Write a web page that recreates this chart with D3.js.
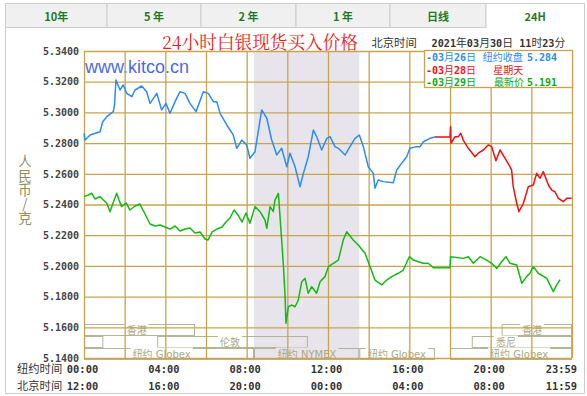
<!DOCTYPE html>
<html><head><meta charset="utf-8">
<script src="https://cdn.jsdelivr.net/npm/d3@7"></script>
<style>html,body{margin:0;padding:0;background:#fff;}svg{display:block;}</style>
</head><body>
<svg id="c" width="587" height="396"></svg>
<script>
// ---------------- data ----------------
const tabs = ["10年", "5 年", "2 年", "1 年", "日线", "24H"];
const yTicks = [5.14, 5.16, 5.18, 5.20, 5.22, 5.24, 5.26, 5.28, 5.30, 5.32, 5.34];
const xTickHours = [0, 4, 8, 12, 16, 20, 23.983];
const xTickNY = ["00:00", "04:00", "08:00", "12:00", "16:00", "20:00", "23:59"];
const xTickBJ = ["12:00", "16:00", "20:00", "00:00", "04:00", "08:00", "11:59"];

// 03月26日 纽约收盘 (blue)
const blueHours = [0,0.05,0.30,0.79,0.92,1.12,1.44,1.50,1.57,1.77,1.93,2.10,2.35,2.51,2.84,3.08,3.25,3.58,3.82,4.03,4.23,4.48,4.72,4.97,5.21,5.51,5.87,6.11,6.36,6.53,6.69,7.02,7.34,7.51,7.76,8.00,8.16,8.41,8.49,8.74,8.99,9.23,9.48,9.72,9.97,10.13,10.38,10.62,10.79,11.03,11.28,11.44,11.69,11.94,12.10,12.34,12.51,12.84,13.08,13.33,13.54,13.74,13.98,14.23,14.31,14.47,14.72,15.21,15.38,15.62,15.87,16.03,16.36,16.53,16.69,17.02,17.26];
const blueValues = [5.2864,5.2820,5.2853,5.2874,5.2939,5.2972,5.3005,5.3048,5.3211,5.3146,5.3179,5.3124,5.3102,5.3146,5.3172,5.3135,5.3059,5.3124,5.3016,5.3059,5.2994,5.3070,5.3135,5.3124,5.3059,5.3005,5.3135,5.3124,5.3070,5.3070,5.2994,5.2918,5.2853,5.2766,5.2820,5.2788,5.2701,5.2744,5.2809,5.3016,5.2962,5.2820,5.2723,5.2766,5.2646,5.2734,5.2646,5.2516,5.2603,5.2711,5.2885,5.2842,5.2755,5.2831,5.2842,5.2777,5.2766,5.2722,5.2777,5.2831,5.2853,5.2777,5.2646,5.2603,5.2506,5.2560,5.2549,5.2542,5.2625,5.2668,5.2711,5.2766,5.2777,5.2777,5.2809,5.2831,5.2840];

// 03月28日 星期天 (red)
const redHours = [17.26,18.00,18.03,18.05,18.25,18.41,18.53,18.65,18.90,19.23,19.39,19.64,19.88,20.05,20.26,20.46,20.71,20.95,21.03,21.11,21.28,21.39,21.61,21.85,22.10,22.26,22.43,22.59,22.84,23.00,23.16,23.33,23.57,23.74,23.98];
const redValues = [5.2840,5.2840,5.2907,5.2799,5.2842,5.2842,5.2864,5.2820,5.2766,5.2711,5.2734,5.2755,5.2788,5.2777,5.2685,5.2755,5.2701,5.2646,5.2625,5.2516,5.2408,5.2353,5.2408,5.2516,5.2527,5.2603,5.2571,5.2614,5.2527,5.2494,5.2483,5.2440,5.2418,5.2440,5.2440];

// 03月29日 最新价 (green)
const greenHours = [0,0.21,0.38,0.54,0.79,1.12,1.28,1.43,1.61,1.72,1.85,2.07,2.26,2.51,2.75,3.00,3.25,3.49,3.74,3.98,4.23,4.48,4.72,4.97,5.21,5.46,5.71,5.95,6.10,6.30,6.54,6.79,6.98,7.18,7.38,7.57,7.77,7.97,8.16,8.41,8.66,8.90,8.99,9.15,9.31,9.39,9.56,9.64,9.72,9.80,9.89,9.93,10.05,10.21,10.38,10.54,10.71,10.87,11.03,11.20,11.44,11.61,11.85,12.02,12.26,12.51,12.75,12.92,13.24,13.49,13.82,14.07,14.31,14.64,14.89,15.13,15.46,15.70,16.00,16.20,16.44,16.69,16.93,17.18,18.00,18.03,18.65,18.90,19.15,19.48,19.80,20.05,20.30,20.54,20.75,20.95,21.28,21.53,21.77,21.93,22.10,22.34,22.76,23.08,23.25,23.41];
const greenValues = [5.2451,5.2462,5.2473,5.2436,5.2451,5.2408,5.2353,5.2410,5.2473,5.2429,5.2386,5.2410,5.2364,5.2390,5.2403,5.2338,5.2273,5.2260,5.2266,5.2253,5.2240,5.2260,5.2227,5.2240,5.2247,5.2214,5.2221,5.2175,5.2169,5.2221,5.2240,5.2253,5.2286,5.2312,5.2364,5.2332,5.2286,5.2345,5.2278,5.2386,5.2353,5.2299,5.2245,5.2386,5.2353,5.2429,5.2473,5.2321,5.2169,5.2017,5.1799,5.1626,5.1734,5.1745,5.1734,5.1778,5.1897,5.1919,5.1822,5.1865,5.1822,5.1897,5.1930,5.1995,5.2017,5.2038,5.2169,5.2223,5.2169,5.2136,5.2082,5.1995,5.1908,5.1876,5.1908,5.1930,5.1952,5.1973,5.2060,5.2038,5.2027,5.2017,5.2017,5.1988,5.1988,5.2060,5.2049,5.2060,5.2017,5.2060,5.2038,5.2017,5.1984,5.2027,5.2060,5.2017,5.2006,5.1887,5.1930,5.1952,5.1995,5.1952,5.1919,5.1832,5.1876,5.1910];

// trading sessions: row, start hour, end hour, label, label hour
const sessionRows   = [0, 0, 1, 1, 1, 2, 2, 2, 2];
const sessionStart  = [0, 20.54, 0, 3.60, 19.07, 0, 8.36, 13.54, 18.00];
const sessionEnd    = [5.46, 24, 0.95, 11.01, 24, 8.36, 13.54, 17.26, 24];
const sessionLabels = ["香港", "香港", "", "伦敦", "悉尼", "纽约 Globex", "纽约 NYMEX", "纽约 Globex", "纽约 Globex"];
const sessionLabelAt = [2.59, 22.03, 0, 7.18, 20.75, 3.82, 10.97, 15.39, 21.4];
const nymexSpan = [8.36, 13.54];

// ---------------- drawing ----------------
const svg = d3.select("#c");
const L = 84, R = 572, T = 51, B = 358;
const x = d3.scaleLinear().domain([0, 24]).range([L, R]);
const y = d3.scaleLinear().domain([5.14, 5.34]).range([B, T]);
const GRID = "#c9a44c";
const MONO = "'DejaVu Sans Mono', monospace";
const CJK = "'Noto Sans CJK SC', sans-serif";
const CJK_TIGHT = "'DejaVu Sans', 'Noto Sans CJK SC', sans-serif";

function addRuns(t, px, py, str, size, cjkSize) {
  const runs = str.match(/[\x00-\x7F]+|[^\x00-\x7F]+/g) || [];
  runs.forEach((r, k) => {
    const ascii = /^[\x00-\x7F]+$/.test(r);
    const ts = t.append("tspan").text(r)
      .attr("font-family", ascii ? MONO : CJK_TIGHT)
      .attr("font-weight", ascii ? "bold" : "normal")
      .attr("font-size", ascii ? size - 0.6 : (cjkSize || size))
      .style("white-space", "pre");
    if (k === 0) ts.attr("x", px).attr("y", py);
  });
}
function mixed(g, px, py, str, size, color, anchor, cjkSize) {
  const t = g.append("text").attr("fill", color)
    .attr("dominant-baseline", "central").attr("text-anchor", anchor || "start");
  addRuns(t, px, py, str, size, cjkSize);
  return t;
}

// tabs
const tabEdges = [5.5, 107, 201, 296, 390, 486, 584.5];
tabs.forEach((name, i) => {
  const active = i === tabs.length - 1;
  svg.append("rect").attr("x", tabEdges[i]).attr("y", 3.5)
    .attr("width", tabEdges[i + 1] - tabEdges[i]).attr("height", 24)
    .attr("fill", active ? "#ffffff" : "#f0f0f0").attr("stroke", "#cccccc");
  svg.append("text").attr("x", (tabEdges[i] + tabEdges[i + 1]) / 2).attr("y", 16)
    .attr("text-anchor", "middle").attr("dominant-baseline", "central")
    .attr("font-family", CJK).attr("font-weight", "bold").attr("font-size", 11)
    .attr("fill", "#1f7a1f").text(name);
});
svg.append("rect").attr("x", tabEdges[5] + 0.5).attr("y", 26).attr("width", tabEdges[6] - tabEdges[5] - 1).attr("height", 3).attr("fill", "#fff");
svg.append("path").attr("d", `M5.5,27 V393.5 H584.5 V27`).attr("fill", "none").attr("stroke", "#cccccc");

// plot background + NYMEX shading
svg.append("rect").attr("x", L).attr("y", T).attr("width", R - L).attr("height", B - T).attr("fill", "#ffffff");
svg.append("rect").attr("x", x(nymexSpan[0])).attr("y", T).attr("width", x(nymexSpan[1]) - x(nymexSpan[0]))
  .attr("height", B - T).attr("fill", "#e7e5eb");

// watermark
svg.append("text").attr("x", 85).attr("y", 73).attr("font-family", "'Liberation Sans', Arial, sans-serif")
  .attr("font-size", 18).attr("fill", "#4a6ae6").text("www.kitco.cn");

// sessions
const rowTop = [324.5, 336.5, 348.5], rowH = 11;
sessionRows.forEach((r, i) => {
  const g = svg.append("g");
  const x0 = x(sessionStart[i]), x1 = x(sessionEnd[i]);
  g.append("rect").attr("x", x0 + 0.5).attr("y", rowTop[r]).attr("width", x1 - x0 - 1).attr("height", rowH)
    .attr("fill", "none").attr("stroke", "#b4b496").attr("stroke-width", 1);
  if (sessionLabels[i]) {
    const t = g.append("text").attr("x", x(sessionLabelAt[i])).attr("y", rowTop[r] + 6)
      .attr("text-anchor", "middle").attr("dominant-baseline", "central")
      .attr("font-family", CJK_TIGHT).attr("font-size", 10).attr("fill", "#a8a884").text(sessionLabels[i]);
    const bb = t.node().getBBox();
    g.insert("rect", "text").attr("x", bb.x - 2).attr("y", rowTop[r] - 1).attr("width", bb.width + 4).attr("height", 3)
      .attr("fill", i === 6 ? "#e7e5eb" : "#ffffff");
  }
});

// grid
const yAxis = d3.axisLeft(y).tickValues(yTicks).tickSize(-(R - L)).tickPadding(5).tickFormat(d3.format(".4f"));
const gy = svg.append("g").attr("transform", `translate(${L},0)`).call(yAxis);
gy.select(".domain").remove();
gy.selectAll("line").attr("stroke", GRID).attr("stroke-width", 1.3);
gy.selectAll("text").attr("font-family", MONO).attr("font-weight", "bold").attr("font-size", 10).attr("fill", "#444");

const xAxis = d3.axisBottom(x).tickValues(d3.range(0, 25, 2)).tickSize(-(B - T)).tickFormat("");
const gx = svg.append("g").attr("transform", `translate(0,${B})`).call(xAxis);
gx.select(".domain").remove();
gx.selectAll("line").attr("stroke", GRID).attr("stroke-width", 1.3);

// series
const line = d3.line().x(d => x(d[0])).y(d => y(d[1]));
function drawSeries(hours, values, color) {
  svg.append("path").datum(hours.map((h, i) => [h, values[i]]))
    .attr("d", line).attr("fill", "none").attr("stroke", color).attr("stroke-width", 1.5)
    .attr("stroke-linejoin", "round");
}
drawSeries(greenHours, greenValues, "#11bb11");
drawSeries(blueHours, blueValues, "#2b8cf5");
drawSeries(redHours, redValues, "#f01010");

// legend
svg.append("rect").attr("x", 424.5).attr("y", 50.5).attr("width", 148).attr("height", 37)
  .attr("fill", "#ffffff").attr("stroke", GRID).attr("stroke-width", 1.3);
const lg = svg.append("g");
const l1 = mixed(lg, 426, 57.3, "-03月26日", 10.6, "#2b8cf5", "start", 10);
addRuns(l1, 482.7, 57.3, "纽约收盘", 10.6, 10);
addRuns(l1, 527, 57.3, "5.284", 10.6, 10);
const l2 = mixed(lg, 426, 69.5, "-03月28日", 10.6, "#f01010", "start", 10);
addRuns(l2, 493.3, 69.5, "星期天", 10.6, 10);
const l3 = mixed(lg, 426, 81.5, "-03月29日", 10.6, "#11aa11", "start", 10);
addRuns(l3, 494, 81.5, "最新价", 10.6, 10);
addRuns(l3, 527, 81.5, "5.191", 10.6, 10);

// title and date
svg.append("text").attr("x", 162).attr("y", 48.5).attr("font-family", "'Noto Serif CJK SC','Noto Sans CJK SC',serif")
  .attr("font-size", 18).attr("fill", "#ee1c1c").attr("textLength", 196).attr("lengthAdjust", "spacingAndGlyphs")
  .text("24小时白银现货买入价格");
mixed(svg, 371.5, 43, "北京时间", 11.3, "#333");
mixed(svg, 431.5, 43, "2021年03月30日 11时23分", 10.8, "#333");

// y-axis title (vertical writing)
svg.append("text").attr("x", 25).attr("y", 154.5)
  .style("writing-mode", "vertical-rl").style("text-orientation", "upright")
  .attr("font-family", CJK).attr("font-size", 13.5).attr("letter-spacing", 0.7)
  .attr("fill", "#8f8f5c").text("人民币/克");

// x labels
mixed(svg, 17, 368.5, "纽约时间", 11.3, "#333");
mixed(svg, 17, 386, "北京时间", 11.3, "#333");
xTickHours.forEach((h, i) => {
  const last = i === xTickHours.length - 1;
  const px = last ? 577 : x(h) - 1.5;
  mixed(svg, px, 368.5, xTickNY[i], 11, "#333", last ? "end" : "middle");
  mixed(svg, px, 386, xTickBJ[i], 11, "#333", last ? "end" : "middle");
});
</script>
</body></html>
